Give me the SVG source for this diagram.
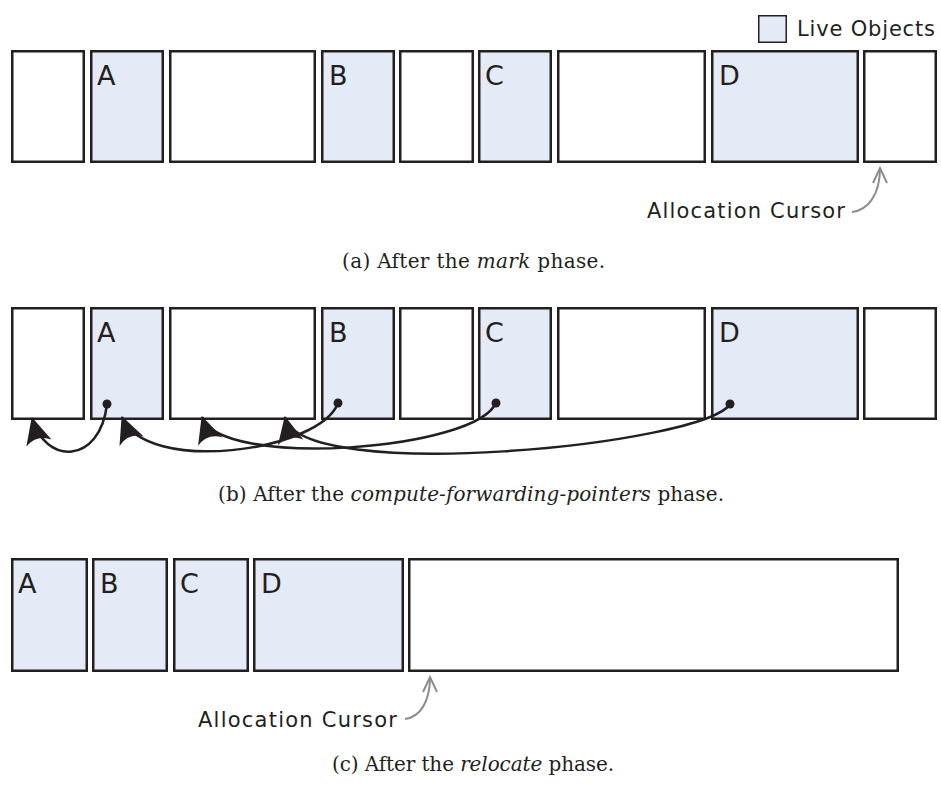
<svg xmlns="http://www.w3.org/2000/svg" width="941" height="785" viewBox="0 0 941 785">
<style>
.box{fill:#ffffff;stroke:#231f20;stroke-width:2.5}
.live{fill:#e4ebf6;stroke:#231f20;stroke-width:2.5}
.lbl{font-family:"DejaVu Sans",sans-serif;font-size:27px;fill:#231f20}
.note{font-family:"DejaVu Sans",sans-serif;font-size:21px;fill:#231f20}
.cap{font-family:"DejaVu Serif",serif;font-size:20px;fill:#231f20}
.ptr{fill:none;stroke:#231f20;stroke-width:2.5;marker-end:url(#stealth)}
.cur{fill:none;stroke:#8c8c8c;stroke-width:2;marker-end:url(#chev)}
.dot{fill:#231f20}
</style>
<defs>
<marker id="stealth" markerUnits="userSpaceOnUse" markerWidth="27" markerHeight="26" refX="26" refY="13" orient="auto" overflow="visible">
<path d="M27,13 L0,0 Q9,13 0,26 Z" fill="#231f20"/>
</marker>
<marker id="chev" markerUnits="userSpaceOnUse" markerWidth="18" markerHeight="16" refX="15" refY="7" orient="auto" overflow="visible">
<path d="M0,0 L15,7 L0,14" fill="none" stroke="#8c8c8c" stroke-width="2" stroke-linejoin="miter"/>
</marker>
</defs>

<!-- Legend -->
<g id="legend">
<rect x="758.75" y="15.75" width="27.5" height="26.5" fill="#e4ebf6" stroke="#231f20" stroke-width="1.5"/>
<text class="note" x="797" y="36" textLength="138" lengthAdjust="spacing">Live Objects</text>
</g>

<!-- Row (a): after mark -->
<g id="a_free1"><rect class="box" x="12.25" y="51.25" width="71.5" height="110.5"/></g>
<g id="a_A"><rect class="live" x="91.25" y="51.25" width="71.5" height="110.5"/><text class="lbl" x="97" y="85">A</text></g>
<g id="a_free2"><rect class="box" x="170.25" y="51.25" width="144.5" height="110.5"/></g>
<g id="a_B"><rect class="live" x="322.25" y="51.25" width="71.5" height="110.5"/><text class="lbl" x="329" y="85">B</text></g>
<g id="a_free3"><rect class="box" x="400.25" y="51.25" width="72.5" height="110.5"/></g>
<g id="a_C"><rect class="live" x="479.25" y="51.25" width="71.5" height="110.5"/><text class="lbl" x="485" y="85">C</text></g>
<g id="a_free4"><rect class="box" x="558.25" y="51.25" width="146.5" height="110.5"/></g>
<g id="a_D"><rect class="live" x="712.25" y="51.25" width="145.5" height="110.5"/><text class="lbl" x="719" y="85">D</text></g>
<g id="a_free5"><rect class="box" x="864.25" y="51.25" width="71.5" height="110.5"/></g>
<g id="a_cursor"><text class="note" x="647" y="218" textLength="198" lengthAdjust="spacing">Allocation Cursor</text></g>
<g id="a_caption"><text class="cap" x="342" y="268" textLength="263" lengthAdjust="spacing">(a)  After the <tspan font-style="italic">mark</tspan> phase.</text></g>

<!-- Row (b): after compute-forwarding-pointers -->
<g id="b_free1"><rect class="box" x="12.25" y="308.25" width="71.5" height="110.5"/></g>
<g id="b_A"><rect class="live" x="91.25" y="308.25" width="71.5" height="110.5"/><text class="lbl" x="97" y="342">A</text><circle class="dot" cx="107" cy="404" r="4.5"/></g>
<g id="b_free2"><rect class="box" x="170.25" y="308.25" width="144.5" height="110.5"/></g>
<g id="b_B"><rect class="live" x="322.25" y="308.25" width="71.5" height="110.5"/><text class="lbl" x="329" y="342">B</text><circle class="dot" cx="338" cy="403" r="4.5"/></g>
<g id="b_free3"><rect class="box" x="400.25" y="308.25" width="72.5" height="110.5"/></g>
<g id="b_C"><rect class="live" x="479.25" y="308.25" width="71.5" height="110.5"/><text class="lbl" x="485" y="342">C</text><circle class="dot" cx="496" cy="403" r="4.5"/></g>
<g id="b_free4"><rect class="box" x="558.25" y="308.25" width="146.5" height="110.5"/></g>
<g id="b_D"><rect class="live" x="712.25" y="308.25" width="145.5" height="110.5"/><text class="lbl" x="719" y="342">D</text><circle class="dot" cx="730" cy="404" r="4.5"/></g>
<g id="b_free5"><rect class="box" x="864.25" y="308.25" width="71.5" height="110.5"/></g>
<g id="b_caption"><text class="cap" x="218" y="501" textLength="506" lengthAdjust="spacing">(b)  After the <tspan font-style="italic">compute-forwarding-pointers</tspan> phase.</text></g>

<!-- Row (c): after relocate -->
<g id="c_A"><rect class="live" x="12.25" y="559.25" width="74.5" height="111.5"/><text class="lbl" x="18" y="593">A</text></g>
<g id="c_B"><rect class="live" x="93.25" y="559.25" width="73.5" height="111.5"/><text class="lbl" x="100" y="593">B</text></g>
<g id="c_C"><rect class="live" x="174.25" y="559.25" width="73.5" height="111.5"/><text class="lbl" x="180" y="593">C</text></g>
<g id="c_D"><rect class="live" x="254.25" y="559.25" width="148.5" height="111.5"/><text class="lbl" x="261" y="593">D</text></g>
<g id="c_free"><rect class="box" x="409.25" y="559.25" width="488.5" height="111.5"/></g>
<g id="c_cursor"><text class="note" x="198" y="727" textLength="199" lengthAdjust="spacing">Allocation Cursor</text></g>
<g id="c_caption"><text class="cap" x="332" y="771" textLength="282" lengthAdjust="spacing">(c)  After the <tspan font-style="italic">relocate</tspan> phase.</text></g>

<!-- Connectors -->
<g id="connectors">
<path class="cur" d="M852,212 C868,210 880,195 880,168"/>
<path class="cur" d="M405,719 C420,717 430,702 430,677"/>
<path class="ptr" d="M107,404 C100,465 45,465 32,418"/>
<path class="ptr" d="M338,403 C320,452 145,475 122,417"/>
<path class="ptr" d="M496,402 C480,450 220,470 202,417"/>
<path class="ptr" d="M730,404 C705,445 300,485 285,417"/>
</g>
</svg>
